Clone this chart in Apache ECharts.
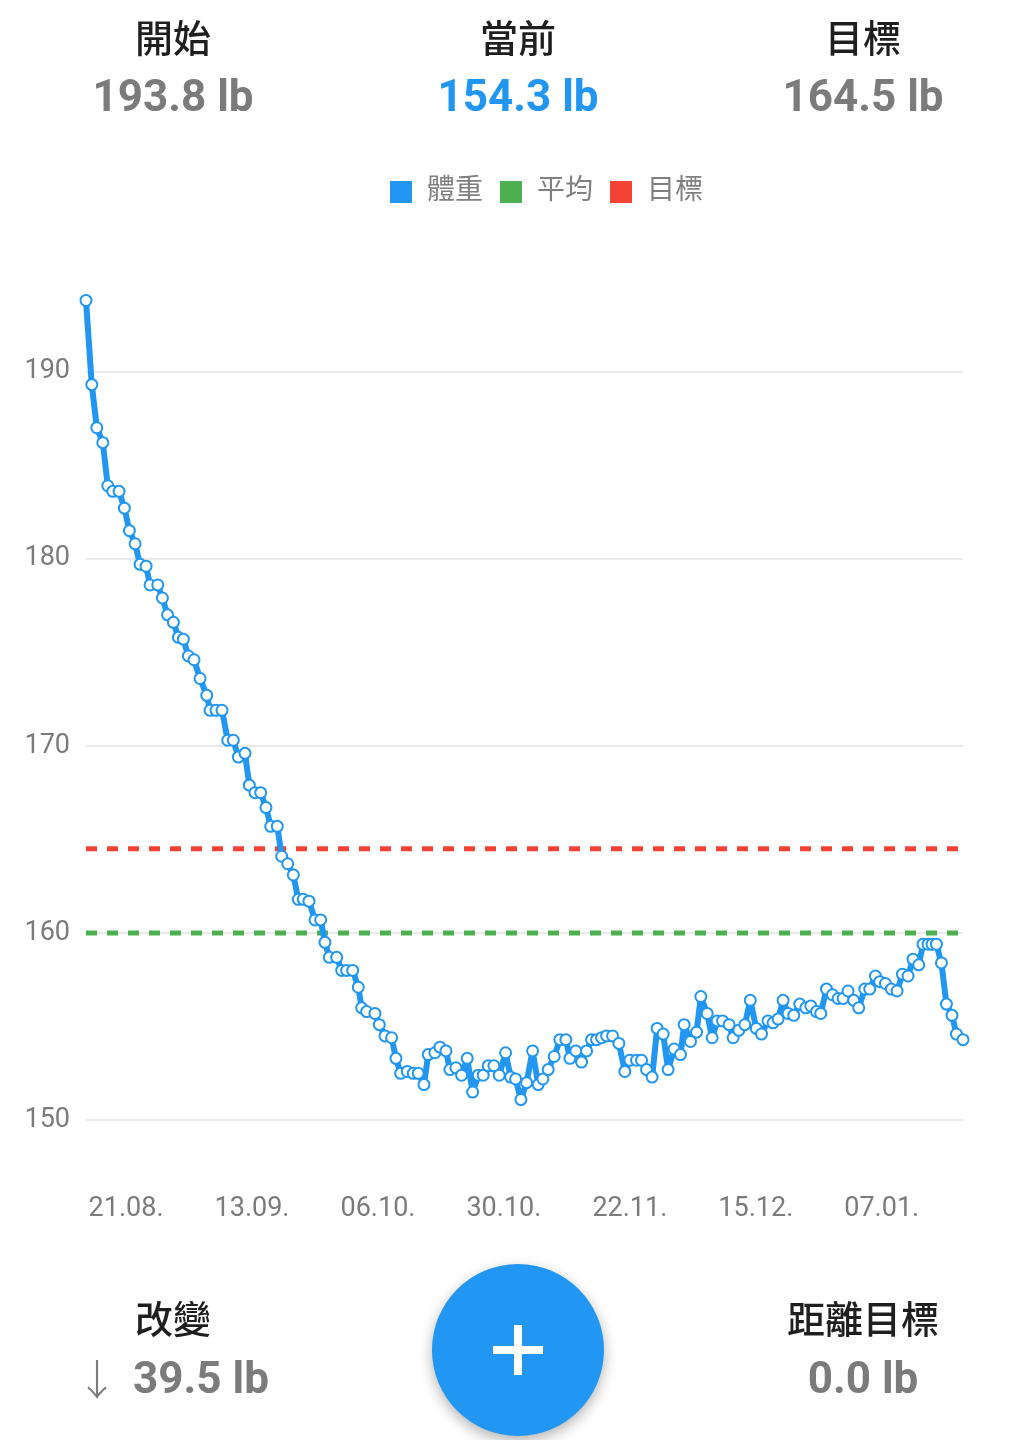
<!DOCTYPE html>
<html>
<head>
<meta charset="utf-8">
<script src="https://cdn.jsdelivr.net/npm/echarts@6/dist/echarts.min.js"></script>
<style>
html,body{margin:0;padding:0;background:#fff;}
#chart{width:1036px;height:1440px;}
</style>
</head>
<body>
<div id="chart"></div>
<script>
// ---- data ----
// day offsets relative to the 21.08. axis tick
const weighDays = [-7.37,-6.31,-5.39,-4.28,-3.37,-2.45,-1.29,-0.31,0.61,1.66,2.57,3.68,4.41,5.83,6.68,7.63,8.70,9.62,10.54,11.46,12.50,13.61,14.84,15.45,16.55,17.65,18.70,19.73,20.65,21.88,22.67,23.72,24.77,25.74,26.61,27.82,28.63,29.74,30.77,31.68,32.60,33.65,34.76,35.80,36.59,37.39,38.75,39.67,40.58,41.69,42.72,43.34,44.26,45.79,46.58,47.63,48.86,49.65,50.51,51.73,52.83,53.75,54.80,55.59,56.82,57.74,58.85,59.58,60.68,61.73,62.76,63.76,64.79,65.70,66.62,67.67,68.65,69.82,70.74,71.66,72.64,73.68,74.79,75.82,76.68,77.66,78.76,79.81,80.91,81.65,82.75,83.80,84.72,85.64,86.56,87.48,88.40,89.50,90.66,91.76,92.68,93.91,94.83,95.75,96.78,97.70,98.81,99.72,100.83,102.00,102.67,103.84,104.95,105.74,106.90,107.82,108.74,109.73,110.94,111.68,112.73,113.83,114.84,115.94,116.90,118.11,119.03,119.95,120.87,121.79,122.84,123.94,125.05,125.97,127.01,127.80,128.85,129.96,130.99,131.91,132.82,133.87,134.79,135.90,136.81,137.86,138.65,139.70,140.80,141.84,142.83,143.86,144.78,145.83,146.62,147.54,148.27,149.08,150.00,150.92,151.95,152.76,153.97];
const weights = [193.8,189.3,187.0,186.2,183.9,183.6,183.6,182.7,181.5,180.8,179.7,179.6,178.6,178.6,177.9,177.0,176.6,175.8,175.7,174.8,174.6,173.6,172.7,171.9,171.9,171.9,170.3,170.3,169.4,169.6,167.9,167.5,167.5,166.7,165.7,165.7,164.1,163.7,163.1,161.8,161.8,161.7,160.7,160.7,159.5,158.7,158.7,158.0,158.0,158.0,157.1,156.0,155.8,155.7,155.1,154.5,154.4,153.3,152.5,152.6,152.5,152.5,151.9,153.5,153.6,153.9,153.7,152.7,152.8,152.4,153.3,151.5,152.4,152.4,152.9,152.9,152.4,153.6,152.3,152.2,151.1,152.0,153.7,151.9,152.2,152.7,153.4,154.3,154.3,153.3,153.7,153.1,153.7,154.3,154.3,154.4,154.5,154.5,154.1,152.6,153.2,153.2,153.2,152.7,152.3,154.9,154.6,152.7,153.8,153.5,155.1,154.2,154.7,156.6,155.7,154.4,155.3,155.3,155.1,154.4,154.8,155.1,156.4,154.9,154.6,155.3,155.2,155.4,156.4,155.7,155.6,156.2,156.0,156.1,155.8,155.7,157.0,156.7,156.5,156.5,156.9,156.4,156.0,157.0,157.0,157.7,157.4,157.3,157.0,156.9,157.8,157.7,158.6,158.3,159.4,159.4,159.4,159.4,158.4,156.2,155.6,154.6,154.3];
const averageWeight = 160.0;
const goalWeight = 164.5;
const tickLabels = ['21.08.','13.09.','06.10.','30.10.','22.11.','15.12.','07.01.'];
const TICK_DAYS = 23.17;
const seriesNames = ['體重','平均','目標'];
const statLabels = ['開始','當前','目標'];
const footLabels = ['改變','距離目標'];

// ---- derived ----
const startW = weights[0], currentW = weights[weights.length-1];
const change = startW - currentW;
const toGoal = Math.max(0, currentW - goalWeight);
const statValues = [startW.toFixed(1)+' lb', currentW.toFixed(1)+' lb', goalWeight.toFixed(1)+' lb'];
const weightData = weighDays.map((d,i)=>[d,weights[i]]);
const firstDay = weighDays[0], lastDay = weighDays[weighDays.length-1];
const STEP = TICK_DAYS/22;

const BLUE='#2196F3', GREEN='#4CAF50', RED='#F44336', GREY='#7b7b7b';
const FONT='Roboto, "Noto Sans CJK TC", sans-serif';

const chart = echarts.init(document.getElementById('chart'), null, {renderer:'canvas'});
const colsX=[173,518,863];
const graphics=[];
statLabels.forEach((t,i)=>{
  graphics.push({type:'text',x:colsX[i],y:42,style:{text:t,font:'500 38px '+FONT,fill:'#1f1f1f',textAlign:'center',textVerticalAlign:'middle'}});
  graphics.push({type:'text',x:colsX[i],y:100,style:{text:statValues[i],font:'700 44px '+FONT,fill:i===1?BLUE:GREY,textAlign:'center',textVerticalAlign:'middle'}});
});
graphics.push({type:'text',x:173,y:1323,style:{text:footLabels[0],font:'500 38px '+FONT,fill:'#1f1f1f',textAlign:'center',textVerticalAlign:'middle'}});
graphics.push({type:'text',x:97,y:1384,style:{text:'↓',font:'300 42px '+FONT,fill:GREY,textAlign:'center',textVerticalAlign:'middle'}});
graphics.push({type:'text',x:201,y:1382,style:{text:change.toFixed(1)+' lb',font:'700 44px '+FONT,fill:GREY,textAlign:'center',textVerticalAlign:'middle'}});
graphics.push({type:'text',x:863,y:1323,style:{text:footLabels[1],font:'500 38px '+FONT,fill:'#1f1f1f',textAlign:'center',textVerticalAlign:'middle'}});
graphics.push({type:'text',x:863,y:1382,style:{text:toGoal.toFixed(1)+' lb',font:'700 44px '+FONT,fill:GREY,textAlign:'center',textVerticalAlign:'middle'}});
graphics.push({type:'circle',shape:{cx:518,cy:1350,r:86},style:{fill:BLUE,shadowBlur:14,shadowColor:'rgba(0,0,0,0.3)',shadowOffsetY:5},z:10});
graphics.push({type:'rect',shape:{x:493,y:1346,width:50,height:8},style:{fill:'#fff'},z:11});
graphics.push({type:'rect',shape:{x:514,y:1325,width:8,height:50},style:{fill:'#fff'},z:11});

const option = {
  animation:false,
  backgroundColor:'#fff',
  textStyle:{fontFamily:FONT},
  graphic:graphics,
  legend:{
    top:173,left:385,icon:'rect',itemWidth:22,itemHeight:22,itemGap:17,
    textStyle:{fontSize:28,color:'#808080',fontFamily:FONT,padding:[0,0,0,10]},
    data:[
      {name:seriesNames[0],itemStyle:{color:BLUE,borderWidth:0}},
      {name:seriesNames[1],itemStyle:{color:GREEN,borderWidth:0}},
      {name:seriesNames[2],itemStyle:{color:RED,borderWidth:0}}
    ]
  },
  grid:{left:86,right:73,top:220,bottom:260,containLabel:false},
  xAxis:{
    type:'value',min:-7*STEP,max:lastDay,interval:STEP,
    axisLine:{show:false},axisTick:{show:false},splitLine:{show:false},
    axisLabel:{
      margin:16,fontSize:27,color:GREY,fontFamily:FONT,showMinLabel:true,showMaxLabel:true,
      formatter:v=>{const k=v/TICK_DAYS;const r=Math.round(k);return (Math.abs(k-r)<0.01&&r>=0&&r<tickLabels.length)?tickLabels[r]:'';}
    }
  },
  yAxis:{
    type:'value',min:146.8,max:198.1,splitNumber:5,
    axisLine:{show:false},axisTick:{show:false},
    splitLine:{show:true,showMinLine:false,showMaxLine:false,lineStyle:{color:'#e2e2e2',width:1.5}},
    axisLabel:{margin:16,fontSize:27,color:GREY,fontFamily:FONT,showMinLabel:false,showMaxLabel:false}
  },
  series:[
    {name:seriesNames[1],type:'line',z:2,showSymbol:false,symbol:'none',data:[[firstDay,averageWeight],[lastDay,averageWeight]],
      itemStyle:{color:GREEN},lineStyle:{color:GREEN,width:5,type:[11,10]},silent:true},
    {name:seriesNames[2],type:'line',z:2,showSymbol:false,symbol:'none',data:[[firstDay,goalWeight],[lastDay,goalWeight]],
      itemStyle:{color:RED},lineStyle:{color:RED,width:5,type:[11,10]},silent:true},
    {name:seriesNames[0],type:'line',z:5,data:weightData,symbol:'emptyCircle',symbolSize:11,showAllSymbol:true,
      itemStyle:{color:BLUE,borderWidth:3.6},lineStyle:{color:BLUE,width:6}}
  ]
};
chart.setOption(option);
</script>
</body>
</html>
